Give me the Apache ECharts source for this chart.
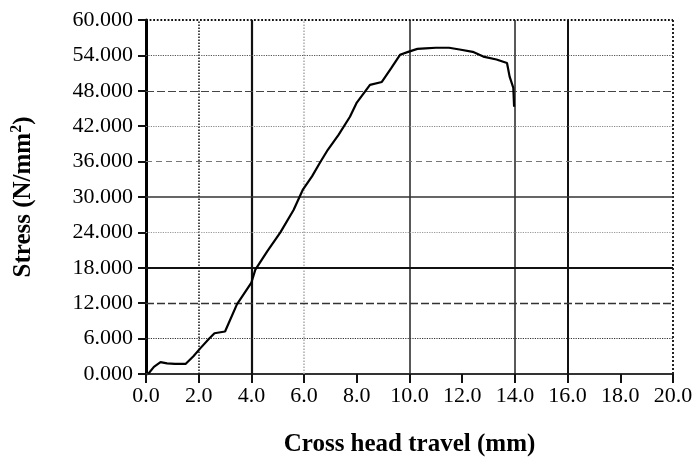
<!DOCTYPE html>
<html><head><meta charset="utf-8">
<script src="https://cdn.jsdelivr.net/npm/echarts@6/dist/echarts.min.js"></script>
<style>html,body{margin:0;padding:0;background:#fff}#c{width:696px;height:462px}</style>
</head><body><div id="c"></div>
<script>
// Cross head travel (mm)
const travel = [0.08,0.3,0.55,0.8,1.1,1.5,1.8,2.05,2.4,2.6,3.0,3.45,4.0,4.15,4.6,5.1,5.6,5.96,6.3,6.6,6.9,7.3,7.74,8.0,8.5,8.95,9.3,9.64,9.95,10.3,10.6,11.0,11.5,11.9,12.4,12.8,13.3,13.7,13.8,13.94,13.97];
// Stress (N/mm2)
const stress = [0.0,1.2,2.0,1.8,1.7,1.7,3.0,4.3,6.0,6.9,7.2,11.8,15.5,17.7,20.8,24.0,27.8,31.3,33.5,35.8,38.0,40.5,43.6,46.0,49.0,49.5,51.8,54.1,54.6,55.1,55.2,55.3,55.3,55.0,54.6,53.8,53.3,52.7,50.4,48.5,45.3];
const xTicks = [0,2,4,6,8,10,12,14,16,18,20];
const yTicks = [0,6,12,18,24,30,36,42,48,54,60];
const vGrid = [2,4,6,10,14,16,20];
const hGrid = [6,12,18,24,30,36,42,48,54,60];

const vStyles = {
  2:{color:'#111',width:1.5,type:'dotted'},
  4:{color:'#111',width:2.2,type:'solid'},
  6:{color:'#aaa',width:1.5,type:'dotted'},
  10:{color:'#222',width:1.5,type:'solid'},
  14:{color:'#222',width:1.5,type:'solid'},
  16:{color:'#111',width:2,type:'solid'},
  20:{color:'#222',width:2,type:'dotted'}
};
const hStyles = {
  6:{color:'#333',width:1.2,type:'dotted'},
  12:{color:'#333',width:1.3,type:[8,3]},
  18:{color:'#111',width:2.2,type:'solid'},
  24:{color:'#999',width:1.2,type:'dotted'},
  30:{color:'#333',width:1.5,type:'solid'},
  36:{color:'#777',width:1.2,type:[6,4]},
  42:{color:'#888',width:1.2,type:'dotted'},
  48:{color:'#444',width:1.2,type:[8,3]},
  54:{color:'#555',width:1.2,type:'dotted'},
  60:{color:'#111',width:1.8,type:'dotted'}
};

const ml = [];
vGrid.forEach(v=>ml.push({xAxis:v,lineStyle:vStyles[v]}));
hGrid.forEach(v=>ml.push({yAxis:v,lineStyle:hStyles[v]}));

const font = '"Liberation Serif","Times New Roman",serif';
const chart = echarts.init(document.getElementById('c'));
chart.setOption({
  animation:false,
  grid:{left:146,right:23,top:20,bottom:87,containLabel:false},
  xAxis:{type:'value',min:0,max:20,interval:2,
    name:'Cross head travel (mm)',nameLocation:'middle',nameGap:58,
    nameTextStyle:{fontFamily:font,fontSize:25,fontWeight:'bold',color:'#000'},
    axisLine:{show:true,onZero:false,lineStyle:{color:'#333',width:2}},
    axisTick:{show:true,inside:false,length:9,lineStyle:{color:'#111',width:2}},
    axisLabel:{fontFamily:font,fontSize:22,color:'#000',margin:11,formatter:v=>v.toFixed(1)},
    splitLine:{show:false}},
  yAxis:{type:'value',min:0,max:60,interval:6,
    name:'{b|Stress (N/mm}{s|2}{b|)}',nameLocation:'middle',nameGap:107,
    nameTextStyle:{fontFamily:font,fontSize:25,fontWeight:'bold',color:'#000',
      rich:{b:{fontFamily:font,fontSize:25,fontWeight:'bold',color:'#000',lineHeight:30},
            s:{fontFamily:font,fontSize:16,fontWeight:'bold',color:'#000',verticalAlign:'top',lineHeight:30,padding:[0,0,10,0]}}},
    axisLine:{show:true,lineStyle:{color:'#000',width:3}},
    axisTick:{show:true,inside:false,length:8,lineStyle:{color:'#111',width:2}},
    axisLabel:{fontFamily:font,fontSize:22,color:'#000',margin:13,formatter:v=>v.toFixed(3)},
    splitLine:{show:false}},
  series:[{type:'line',data:travel.map((x,i)=>[x,stress[i]]),
    showSymbol:false,symbol:'none',lineStyle:{color:'#000',width:2.2},
    markLine:{silent:true,symbol:['none','none'],label:{show:false},animation:false,data:ml},
    z:5}]
});
</script></body></html>
